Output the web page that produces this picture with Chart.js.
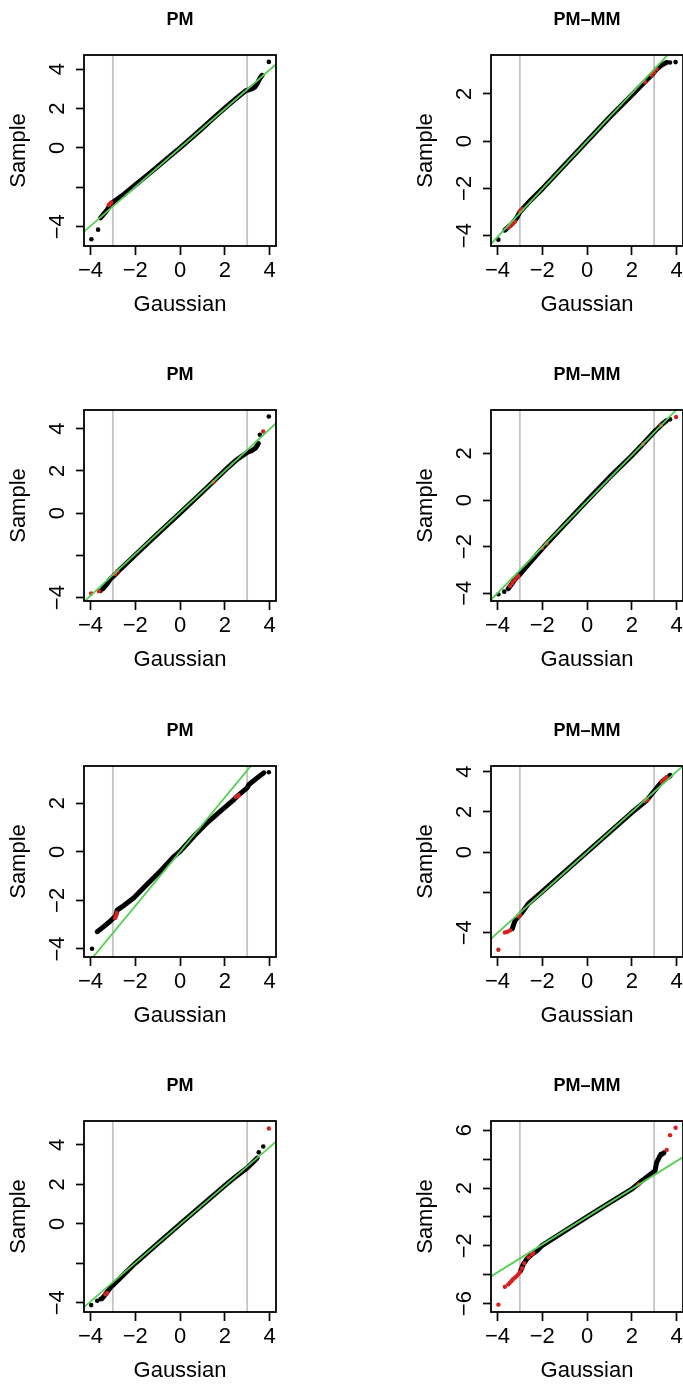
<!DOCTYPE html>
<html>
<head>
<meta charset="utf-8">
<script src="https://cdn.jsdelivr.net/npm/chart.js@4.4.1/dist/chart.umd.min.js"></script>
<style>
  html, body { margin: 0; padding: 0; background: #fff; }
  body { width: 683px; height: 1387px; overflow: hidden; position: relative; }
  canvas.p { position: absolute; }
</style>
</head>
<body>
<script>
// ---------- DATA ----------
const panelTitles = ["PM", "PM–MM", "PM", "PM–MM", "PM", "PM–MM", "PM", "PM–MM"];
const xTitle = "Gaussian";
const yTitle = "Sample";
const xRange = [-4.29, 4.29];
const xTicks = [-4, -2, 0, 2, 4];
const xTickLabels = ["−4", "−2", "0", "2", "4"];
const refLineX = [-4.5, 4.5];        // x where the green reference line is sampled
const cutX = [-3, 3];                // grey vertical lines
const cutY = [-50, 50];

// Panel 1 (PM, row 1)
const p1YRange = [-4.98, 4.72];
const p1YTicks = [-4, -2, 0, 2, 4];
const p1YLabels = ["−4", "", "0", "2", "4"];
const p1RefY = [-4.46, 4.46];
const p1BandX = [-3.55, -3.4, -3.26, -3.12, -2.95, -2.8, -2.5, -2.0, -1.5, -1.0, -0.5, 0, 0.5, 1.0, 1.5, 2.0, 2.5, 2.93, 3.23, 3.35, 3.45, 3.55, 3.67];
const p1BandY = [-3.55, -3.35, -3.15, -2.88, -2.72, -2.6, -2.35, -1.88, -1.42, -0.95, -0.47, 0, 0.5, 1.0, 1.52, 2.02, 2.5, 2.9, 3.01, 3.1, 3.27, 3.5, 3.69];
const p1OutX = [3.97, -3.66, -3.96];
const p1OutY = [4.37, -4.15, -4.64];
const p1RedX = [-3.18, -3.12, -3.07];
const p1RedY = [-2.9, -2.83, -2.77];

// Panel 2 (PM-MM, row 1)
const p2YRange = [-4.44, 3.65];
const p2YTicks = [-4, -2, 0, 2];
const p2YLabels = ["−4", "−2", "0", "2"];
const p2RefY = [-4.56, 4.56];
const p2BandX = [-3.67, -3.5, -3.35, -3.14, -3.0, -2.62, -2.0, -1.0, 0, 1.0, 2.0, 2.5, 2.89, 3.11, 3.34, 3.56];
const p2BandY = [-3.77, -3.62, -3.5, -3.25, -3.0, -2.6, -2.02, -1.01, 0, 1.0, 1.95, 2.43, 2.8, 3.05, 3.22, 3.34];
const p2OutX = [-3.96, 3.71, 3.96];
const p2OutY = [-4.17, 3.33, 3.35];
const p2RedX = [-3.52, -3.42, -3.32, -3.22, -3.0, -2.9, 2.6, 2.89, 3.0, 3.11];
const p2RedY = [-3.66, -3.58, -3.5, -3.4, -2.98, -2.88, 2.5, 2.8, 2.92, 3.06];

// Panel 3 (PM, row 2)
const p3YRange = [-4.16, 4.88];
const p3YTicks = [-4, -2, 0, 2, 4];
const p3YLabels = ["−4", "", "0", "2", "4"];
const p3RefY = [-4.4, 4.46];
const p3BandX = [-3.45, -3.3, -3.11, -2.88, -2.66, -2.0, -1.0, 0, 1.0, 2.0, 2.5, 3.0, 3.2, 3.38, 3.5];
const p3BandY = [-3.58, -3.4, -3.12, -2.89, -2.65, -1.98, -0.98, 0, 1.0, 2.02, 2.5, 2.87, 2.95, 3.08, 3.3];
const p3OutX = [-3.55, 3.57, 3.97];
const p3OutY = [-3.68, 3.71, 4.57];
const p3RedX = [-3.97, -3.62, -2.9, -2.8, 1.5, 3.72];
const p3RedY = [-3.8, -3.7, -2.88, -2.75, 1.46, 3.86];

// Panel 4 (PM-MM, row 2)
const p4YRange = [-4.33, 3.86];
const p4YTicks = [-4, -2, 0, 2];
const p4YLabels = ["−4", "−2", "0", "2"];
const p4RefY = [-4.49, 4.37];
const p4BandX = [-3.52, -3.35, -3.22, -3.0, -2.62, -2.0, -1.0, 0, 1.0, 2.0, 2.5, 3.04, 3.2, 3.34, 3.55];
const p4BandY = [-3.8, -3.58, -3.4, -3.19, -2.76, -2.08, -1.05, -0.03, 0.97, 1.9, 2.4, 2.96, 3.1, 3.24, 3.4];
const p4OutX = [-3.96, -3.7, 3.71];
const p4OutY = [-4.04, -3.93, 3.46];
const p4RedX = [-3.44, -3.34, -3.24, -3.14, -3.07, -2.0, -1.8, 2.5, 3.3, 3.98];
const p4RedY = [-3.69, -3.56, -3.44, -3.32, -3.26, -2.05, -1.86, 2.4, 3.2, 3.56];

// Panel 5 (PM, row 3)
const p5YRange = [-4.33, 3.53];
const p5YTicks = [-4, -2, 0, 2];
const p5YLabels = ["−4", "−2", "0", "2"];
const p5RefY = [-5.02, 5.02];
const p5BandX = [-3.7, -3.41, -3.11, -2.88, -2.81, -2.51, -2.06, -1.47, -0.87, -0.28, 0.02, 0.62, 1.21, 1.81, 2.41, 2.56, 3.0, 3.08, 3.45, 3.75];
const p5BandY = [-3.29, -3.08, -2.85, -2.64, -2.4, -2.21, -1.89, -1.34, -0.79, -0.2, 0.03, 0.64, 1.19, 1.67, 2.15, 2.29, 2.63, 2.77, 3.04, 3.25];
const p5OutX = [-3.93, 3.97];
const p5OutY = [-3.99, 3.27];
const p5RedX = [-2.9, -2.86, -2.83, 2.5, 2.56, 2.62];
const p5RedY = [-2.72, -2.62, -2.52, 2.25, 2.29, 2.33];

// Panel 6 (PM-MM, row 3)
const p6YRange = [-5.2, 4.28];
const p6YTicks = [-4, -2, 0, 2, 4];
const p6YLabels = ["−4", "", "0", "2", "4"];
const p6RefY = [-4.5, 4.5];
const p6BandX = [-3.34, -3.22, -3.07, -2.92, -2.62, -2.0, -1.0, 0, 1.0, 2.0, 2.4, 2.67, 3.04, 3.34, 3.71];
const p6BandY = [-3.8, -3.4, -3.19, -3.02, -2.55, -1.95, -0.98, 0, 0.98, 1.97, 2.33, 2.58, 3.09, 3.5, 3.79];
const p6OutX = [-3.34, 3.71];
const p6OutY = [-3.8, 3.83];
const p6RedX = [-3.96, -3.67, -3.55, -3.44, -3.07, -3.0, 2.6, 2.7, 3.34, 3.45, 3.55];
const p6RedY = [-4.84, -3.98, -3.95, -3.88, -3.19, -3.1, 2.55, 2.62, 3.5, 3.62, 3.72];

// Panel 7 (PM, row 4)
const p7YRange = [-4.47, 5.21];
const p7YTicks = [-4, -2, 0, 2, 4];
const p7YLabels = ["−4", "", "0", "2", "4"];
const p7RefY = [-4.43, 4.37];
const p7BandX = [-3.48, -3.33, -3.11, -2.88, -2.0, -1.0, 0, 1.0, 2.0, 2.5, 3.0, 3.23, 3.45];
const p7BandY = [-3.79, -3.57, -3.23, -2.98, -2.0, -1.0, -0.02, 0.96, 1.93, 2.4, 2.83, 3.08, 3.33];
const p7OutX = [-3.97, -3.7, -3.55, 3.52, 3.72];
const p7OutY = [-4.12, -3.9, -3.82, 3.62, 3.92];
const p7RedX = [-3.33, -3.25, 3.97];
const p7RedY = [-3.57, -3.5, 4.83];

// Panel 8 (PM-MM, row 4)
const p8YRange = [-6.58, 6.64];
const p8YTicks = [-6, -4, -2, 0, 2, 4, 6];
const p8YLabels = ["−6", "", "−2", "", "2", "", "6"];
const p8RefY = [-4.32, 4.34];
const p8BandX = [-2.97, -2.85, -2.7, -2.47, -2.25, -2.03, -1.0, 0, 1.0, 2.0, 2.44, 2.74, 3.04, 3.11, 3.26, 3.41];
const p8BandY = [-3.74, -3.28, -2.93, -2.59, -2.36, -2.01, -0.98, 0, 0.97, 1.92, 2.49, 2.84, 3.19, 3.76, 4.23, 4.41];
const p8OutX = [3.3, 3.45];
const p8OutY = [4.35, 4.45];
const p8RedX = [-3.96, -3.67, -3.52, -3.45, -3.37, -3.3, -3.22, -3.15, -3.07, -3.0, -2.9, -2.8, -2.6, -2.47, -2.4, 2.3, 3.56, 3.71, 3.96];
const p8RedY = [-6.07, -4.83, -4.67, -4.55, -4.43, -4.3, -4.2, -4.1, -3.97, -3.8, -3.55, -3.2, -2.8, -2.59, -2.5, 2.25, 4.64, 5.66, 6.17];

// ---------- LAYOUT / STYLE ----------
const FONT = "'Liberation Sans', Arial, Helvetica, sans-serif";
const colLeft = [0, 407];
const rowTop = [0, 355, 711, 1066];
const PANEL_W = 341, PANEL_H = 355;
const GREEN = '#55cf55', RED = '#d32222', GRAY = '#c4c4c4';

const panels = [
  {yRange: p1YRange, yTicks: p1YTicks, yLabels: p1YLabels, refY: p1RefY, bandX: p1BandX, bandY: p1BandY, outX: p1OutX, outY: p1OutY, redX: p1RedX, redY: p1RedY},
  {yRange: p2YRange, yTicks: p2YTicks, yLabels: p2YLabels, refY: p2RefY, bandX: p2BandX, bandY: p2BandY, outX: p2OutX, outY: p2OutY, redX: p2RedX, redY: p2RedY},
  {yRange: p3YRange, yTicks: p3YTicks, yLabels: p3YLabels, refY: p3RefY, bandX: p3BandX, bandY: p3BandY, outX: p3OutX, outY: p3OutY, redX: p3RedX, redY: p3RedY},
  {yRange: p4YRange, yTicks: p4YTicks, yLabels: p4YLabels, refY: p4RefY, bandX: p4BandX, bandY: p4BandY, outX: p4OutX, outY: p4OutY, redX: p4RedX, redY: p4RedY},
  {yRange: p5YRange, yTicks: p5YTicks, yLabels: p5YLabels, refY: p5RefY, bandX: p5BandX, bandY: p5BandY, outX: p5OutX, outY: p5OutY, redX: p5RedX, redY: p5RedY},
  {yRange: p6YRange, yTicks: p6YTicks, yLabels: p6YLabels, refY: p6RefY, bandX: p6BandX, bandY: p6BandY, outX: p6OutX, outY: p6OutY, redX: p6RedX, redY: p6RedY},
  {yRange: p7YRange, yTicks: p7YTicks, yLabels: p7YLabels, refY: p7RefY, bandX: p7BandX, bandY: p7BandY, outX: p7OutX, outY: p7OutY, redX: p7RedX, redY: p7RedY},
  {yRange: p8YRange, yTicks: p8YTicks, yLabels: p8YLabels, refY: p8RefY, bandX: p8BandX, bandY: p8BandY, outX: p8OutX, outY: p8OutY, redX: p8RedX, redY: p8RedY}
];

function pts(xs, ys) { return xs.map((x, i) => ({x: x, y: ys[i]})); }

const boxPlugin = {
  id: 'plotBox',
  afterDatasetsDraw(chart) {
    const {ctx, chartArea: a} = chart;
    ctx.save();
    ctx.strokeStyle = '#000';
    ctx.lineWidth = 1.8;
    ctx.strokeRect(a.left, a.top, a.right - a.left, a.bottom - a.top);
    ctx.restore();
  }
};

panels.forEach((p, i) => {
  const c = document.createElement('canvas');
  c.className = 'p';
  c.width = PANEL_W; c.height = PANEL_H;
  c.style.left = colLeft[i % 2] + 'px';
  c.style.top = rowTop[Math.floor(i / 2)] + 'px';
  c.style.width = PANEL_W + 'px'; c.style.height = PANEL_H + 'px';
  document.body.appendChild(c);

  new Chart(c, {
    type: 'scatter',
    data: {
      datasets: [
        {data: pts(refLineX, p.refY), showLine: true, borderColor: GREEN, borderWidth: 1.8, pointRadius: 0},
        {data: pts(p.redX, p.redY), showLine: false, pointRadius: 2.2, backgroundColor: RED, borderWidth: 0},
        {data: pts(p.outX, p.outY), showLine: false, pointRadius: 2.3, backgroundColor: '#000', borderWidth: 0},
        {data: pts(p.bandX, p.bandY), showLine: true, borderColor: '#000', borderWidth: 5, pointRadius: 0,
         borderCapStyle: 'round', borderJoinStyle: 'round'},
        {data: pts([cutX[0], cutX[0]], cutY), showLine: true, borderColor: GRAY, borderWidth: 1.8, pointRadius: 0},
        {data: pts([cutX[1], cutX[1]], cutY), showLine: true, borderColor: GRAY, borderWidth: 1.8, pointRadius: 0}
      ]
    },
    options: {
      responsive: false,
      animation: false,
      events: [],
      devicePixelRatio: 1,
      layout: {padding: {left: 0, right: 65, top: 0, bottom: 0}},
      plugins: {
        legend: {display: false},
        tooltip: {enabled: false},
        title: {
          display: true, text: panelTitles[i], color: '#000', fullSize: false,
          font: {family: FONT, size: 18, weight: 'bold'},
          padding: {top: 9.2, bottom: 24.2}
        }
      },
      scales: {
        x: {
          type: 'linear', position: 'bottom', bounds: 'data',
          min: xRange[0], max: xRange[1],
          afterBuildTicks: s => { s.ticks = xTicks.map(v => ({value: v})); },
          afterFit: s => { s.height = 109; },
          ticks: {
            autoSkip: false, maxRotation: 0, minRotation: 0, padding: 3, color: '#000',
            font: {family: FONT, size: 22},
            callback: v => xTickLabels[xTicks.indexOf(v)]
          },
          grid: {display: true, drawOnChartArea: false, drawTicks: true, tickLength: 9, tickWidth: 1.7, tickColor: '#000'},
          border: {display: false},
          title: {display: true, text: xTitle, color: '#000', font: {family: FONT, size: 22}, padding: {top: 0, bottom: 36.8}}
        },
        y: {
          type: 'linear', position: 'left', bounds: 'data',
          min: p.yRange[0], max: p.yRange[1],
          afterBuildTicks: s => { s.ticks = p.yTicks.map(v => ({value: v})); },
          afterFit: s => { s.width = 84; },
          ticks: {
            autoSkip: false, minRotation: 90, maxRotation: 90, crossAlign: 'center', padding: 5.5, color: '#000',
            font: {family: FONT, size: 22},
            callback: v => p.yLabels[p.yTicks.indexOf(v)]
          },
          grid: {display: true, drawOnChartArea: false, drawTicks: true, tickLength: 8, tickWidth: 1.7, tickColor: '#000'},
          border: {display: false},
          title: {display: true, text: yTitle, color: '#000', font: {family: FONT, size: 22}, padding: {top: 5.8, bottom: 0}}
        }
      }
    },
    plugins: [boxPlugin]
  });
});
</script>
</body>
</html>
